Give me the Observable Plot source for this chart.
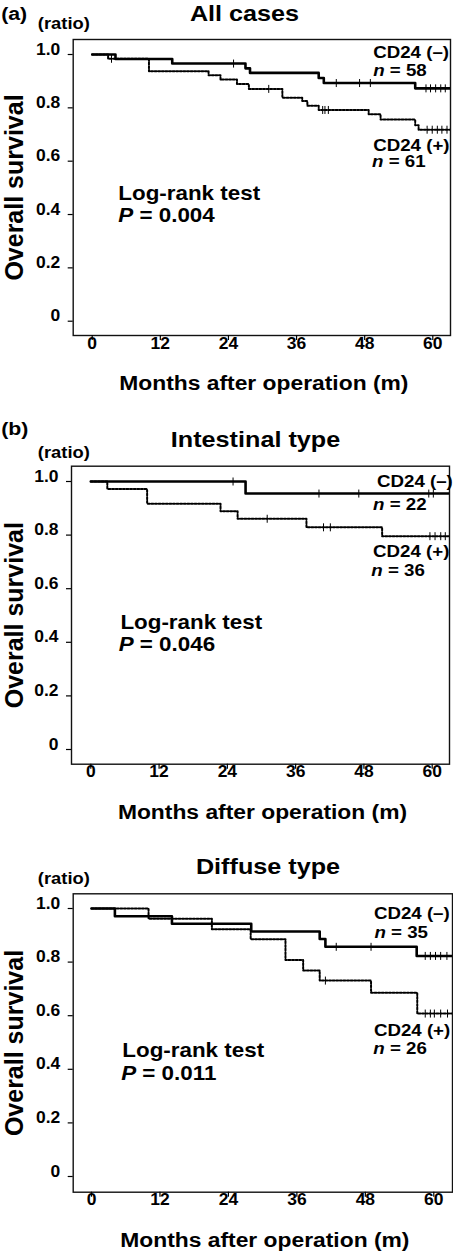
<!DOCTYPE html>
<html>
<head>
<meta charset="utf-8">
<script src="https://cdn.jsdelivr.net/npm/d3@7"></script>
<script src="https://cdn.jsdelivr.net/npm/@observablehq/plot@0.6"></script>
<style>
  html, body { margin: 0; padding: 0; background: #fff; }
  #chart { position: relative; width: 453px; height: 1253px; overflow: hidden; }
  #chart svg { position: absolute; left: 0; }
</style>
</head>
<body>
<div id="chart"></div>
<script>
// ---------- shared axis data ----------
const xTicks = [0, 12, 24, 36, 48, 60];
const xTickLabels = ["0", "12", "24", "36", "48", "60"];
const yTicks = [0, 0.2, 0.4, 0.6, 0.8, 1.0];
const yTickLabels = ["0", "0.2", "0.4", "0.6", "0.8", "1.0"];
const xLabel = "Months after operation (m)";
const yLabel = "Overall survival";
const yUnit = "(ratio)";

// ---------- (a) All cases ----------
const aTitle = "All cases";
const aNegTime = [0, 4.1, 14.1, 27.0, 27.8, 39.9, 40.8, 56.9, 64];
const aNegSurv = [1.0, 0.983, 0.966, 0.948, 0.931, 0.912, 0.893, 0.873, 0.873];
const aNegCensor = [24.9, 43.0, 47.1, 49.0, 58.8, 59.6, 60.5, 61.4, 62.2];
const aPosTime = [0, 2.8, 10.0, 20.5, 22.6, 25.5, 27.6, 33.5, 37.0, 37.9, 39.9, 48.7, 50.8, 56.9, 57.5, 64];
const aPosSurv = [1.0, 0.984, 0.937, 0.922, 0.906, 0.889, 0.871, 0.838, 0.826, 0.808, 0.792, 0.776, 0.756, 0.735, 0.718, 0.718];
const aPosCensor = [3.4, 31.1, 40.6, 41.0, 41.6, 59.0, 59.9, 60.8, 61.6, 62.5];
const aGroups = ["CD24 (–)", "n = 58", "CD24 (+)", "n = 61"];
const aTest = ["Log-rank test", "P = 0.004"];

// ---------- (b) Intestinal type ----------
const bTitle = "Intestinal type";
const bNegTime = [0, 27.2, 64];
const bNegSurv = [1.0, 0.955, 0.955];
const bNegCensor = [25.0, 40.1, 47.1, 59.4, 60.2];
const bPosTime = [0, 2.9, 9.9, 22.8, 25.8, 37.9, 51.2, 64];
const bPosSurv = [1.0, 0.972, 0.917, 0.889, 0.861, 0.829, 0.796, 0.796];
const bPosCensor = [31.0, 40.9, 42.1, 59.6, 60.5, 61.5, 62.3];
const bGroups = ["CD24 (–)", "n = 22", "CD24 (+)", "n = 36"];
const bTest = ["Log-rank test", "P = 0.046"];

// ---------- (c) Diffuse type ----------
const cTitle = "Diffuse type";
const cNegTime = [0, 4.1, 14.1, 28.0, 40.0, 41.0, 57.0, 64];
const cNegSurv = [1.0, 0.971, 0.943, 0.914, 0.886, 0.857, 0.823, 0.823];
const cNegCensor = [42.9, 49.0, 58.5, 59.4, 60.3, 61.2, 62.3];
const cPosTime = [0, 10.0, 21.1, 27.9, 34.0, 37.1, 40.0, 49.0, 57.1, 64];
const cPosSurv = [1.0, 0.962, 0.923, 0.885, 0.808, 0.769, 0.731, 0.686, 0.608, 0.608];
const cPosCensor = [41.0, 58.5, 59.4, 60.1, 61.2, 62.4];
const cGroups = ["CD24 (–)", "n = 35", "CD24 (+)", "n = 26"];
const cTest = ["Log-rank test", "P = 0.011"];

// ---------- helpers ----------
const FONT = "'Liberation Sans', Arial, Helvetica, sans-serif";
const STRETCH = 1.12;
const curve = (T, S) => T.map((t, i) => ({t, s: S[i]}));
const censorPts = (T, S, C) => C.map(c => {
  let s = S[0];
  for (let i = 0; i < T.length; i++) if (T[i] <= c) s = S[i];
  return {t: c, s};
});
const vtick = {draw(ctx, size) { const r = Math.sqrt(size / Math.PI); ctx.moveTo(0, -r); ctx.lineTo(0, r); }};

function postProcess(svg) {
  const ns = "http://www.w3.org/2000/svg";
  for (const t of svg.querySelectorAll("text")) {
    const tr = t.getAttribute("transform") || "";
    if (tr.includes("rotate")) continue;
    const x = +t.getAttribute("x") || 0, y = +t.getAttribute("y") || 0;
    t.removeAttribute("x"); t.removeAttribute("y");
    t.setAttribute("transform", `${tr} translate(${x},${y}) scale(${STRETCH},1)`);
  }
  for (const t of svg.querySelectorAll("text")) {
    const s = t.textContent;
    if ((/^[nP] = /).test(s) && t.children.length === 0) {
      t.textContent = "";
      const it = document.createElementNS(ns, "tspan");
      it.setAttribute("font-style", "italic");
      it.textContent = s[0];
      t.appendChild(it);
      t.appendChild(document.createTextNode(s.slice(1)));
    }
  }
}

function panel(p) {
  const neg = curve(p.negT, p.negS), pos = curve(p.posT, p.posS);
  const txt = {fontWeight: "bold", fill: "black"};
  const svg = Plot.plot({
    width: 453, height: p.height,
    marginTop: p.mt, marginBottom: p.mb, marginLeft: p.ml, marginRight: p.mr,
    x: {domain: [0, 60], insetLeft: p.xi[0], insetRight: p.xi[1]},
    y: {domain: [0, 1], insetTop: p.yi[0], insetBottom: p.yi[1]},
    style: {fontFamily: FONT, color: "black", background: "white", overflow: "visible"},
    marks: [
      Plot.frame({stroke: "#111", strokeWidth: 1.4}),
      Plot.axisX(xTicks, {tickSize: 5, tickPadding: 8, stroke: "black", strokeWidth: 1.2,
        tickFormat: d => xTickLabels[xTicks.indexOf(d)], fontSize: 15.6, fontWeight: "bold", label: null}),
      Plot.axisY(yTicks, {tickSize: 5, tickPadding: 8, stroke: "black", strokeWidth: 1.2,
        tickFormat: d => yTickLabels[yTicks.indexOf(d)], fontSize: 15.6, fontWeight: "bold", label: null}),
      Plot.line(pos, {x: "t", y: "s", curve: "step-after", stroke: "black", strokeWidth: 2,
        strokeDasharray: "2,1.6", clip: true}),
      Plot.line(neg, {x: "t", y: "s", curve: "step-after", stroke: "black", strokeWidth: 2.6, clip: true}),
      Plot.dot(censorPts(p.posT, p.posS, p.posC), {x: "t", y: "s", symbol: vtick, r: 4, stroke: "black", strokeWidth: 1, fill: "none", clip: true}),
      Plot.dot(censorPts(p.negT, p.negS, p.negC), {x: "t", y: "s", symbol: vtick, r: 4, stroke: "black", strokeWidth: 1, fill: "none", clip: true}),
      // group labels
      Plot.text([p.groups[0]], {x: p.gx[0], y: p.gy[0], textAnchor: "start", lineAnchor: "bottom", fontSize: 16.7, ...txt}),
      Plot.text([p.groups[1]], {x: p.gx[1], y: p.gy[1], textAnchor: "start", lineAnchor: "bottom", fontSize: 16.7, ...txt}),
      Plot.text([p.groups[2]], {x: p.gx[2], y: p.gy[2], textAnchor: "start", lineAnchor: "bottom", fontSize: 16.7, ...txt}),
      Plot.text([p.groups[3]], {x: p.gx[3], y: p.gy[3], textAnchor: "start", lineAnchor: "bottom", fontSize: 16.7, ...txt}),
      // log-rank
      Plot.text([p.test[0]], {x: p.tx[0], y: p.ty[0], textAnchor: "start", lineAnchor: "bottom", fontSize: 20, ...txt}),
      Plot.text([p.test[1]], {x: p.tx[1], y: p.ty[1], textAnchor: "start", lineAnchor: "bottom", fontSize: 20, ...txt}),
      // title, tag, unit
      Plot.text([p.title], {frameAnchor: "top-left", dx: p.titleX - p.ml, dy: p.titleDy, textAnchor: "middle", lineAnchor: "bottom", fontSize: 22.5, ...txt}),
      ...(p.tag ? [Plot.text([p.tag], {frameAnchor: "top-left", dx: 0.7 - p.ml, dy: p.tagDy, textAnchor: "start", lineAnchor: "bottom", fontSize: 19, ...txt})] : []),
      Plot.text([yUnit], {frameAnchor: "top-left", dx: 37.3 - p.ml, dy: p.unitDy, textAnchor: "start", lineAnchor: "bottom", fontSize: 16.4, ...txt}),
      // axis titles
      Plot.text([xLabel], {frameAnchor: "bottom", dx: 2, dy: 54.5, textAnchor: "middle", lineAnchor: "bottom", fontSize: 20.4, ...txt}),
      Plot.text([yLabel], {frameAnchor: "left", dx: 22.8 - p.ml, rotate: -90, textAnchor: "middle", lineAnchor: "bottom", fontSize: 25, ...txt})
    ]
  });
  svg.style.top = p.top + "px";
  postProcess(svg);
  document.getElementById("chart").appendChild(svg);
}

panel({
  top: 0, height: 400, mt: 39, mb: 65, ml: 72.7, mr: 3, xi: [19, 17.7], yi: [15, 14.3],
  negT: aNegTime, negS: aNegSurv, negC: aNegCensor, posT: aPosTime, posS: aPosSurv, posC: aPosCensor,
  groups: aGroups, gx: [49.5, 49.5, 49.5, 49.3], gy: [0.988, 0.920, 0.640, 0.577],
  test: aTest, tx: [4.6, 4.6], ty: [0.455, 0.371],
  title: aTitle, titleX: 244, titleDy: -18.8, tag: "(a)", tagDy: -19.5, unitDy: -10.5
});
panel({
  top: 400, height: 430, mt: 65.7, mb: 66.3, ml: 71, mr: 4, xi: [19.3, 17.3], yi: [15.3, 14.7],
  negT: bNegTime, negS: bNegSurv, negC: bNegCensor, posT: bPosTime, posS: bPosSurv, posC: bPosCensor,
  groups: bGroups, gx: [50.3, 49.6, 49.6, 49.3], gy: [0.981, 0.892, 0.720, 0.649],
  test: bTest, tx: [5.2, 4.9], ty: [0.450, 0.369],
  title: bTitle, titleX: 255, titleDy: -19, tag: "(b)", tagDy: -31.2, unitDy: -8.7
});
panel({
  top: 830, height: 423, mt: 63.3, mb: 61.3, ml: 72.7, mr: 1, xi: [18.3, 18.7], yi: [14.7, 15.7],
  negT: cNegTime, negS: cNegSurv, negC: cNegCensor, posT: cPosTime, posS: cPosSurv, posC: cPosCensor,
  groups: cGroups, gx: [49.5, 49.6, 49.5, 49.4], gy: [0.959, 0.891, 0.524, 0.458],
  test: cTest, tx: [5.4, 5.2], ty: [0.445, 0.361],
  title: cTitle, titleX: 267.5, titleDy: -20, tag: null, tagDy: 0, unitDy: -9.8
});
</script>
</body>
</html>
